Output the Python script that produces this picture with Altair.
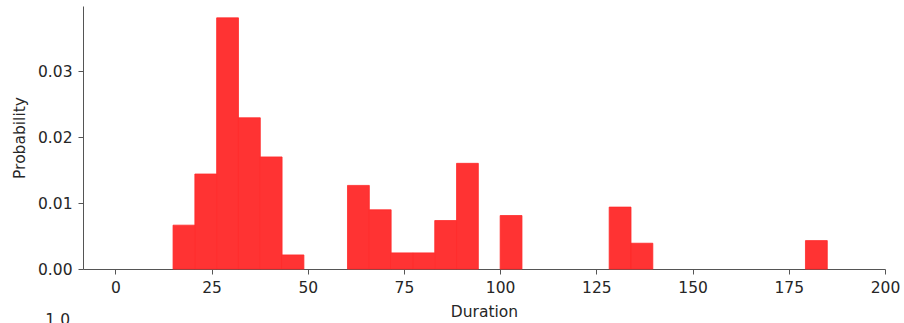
import altair as alt
import pandas as pd

# Histogram of durations: bin edges and probability per bin
bin_edges = [15.0, 20.67, 26.33, 32.0, 37.67, 43.33, 49.0, 54.67, 60.33, 66.0,
             71.67, 77.33, 83.0, 88.67, 94.33, 100.0, 105.67, 111.33, 117.0, 122.67,
             128.33, 134.0, 139.67, 145.33, 151.0, 156.67, 162.33, 168.0, 173.67,
             179.33, 185.0]
probability = [0.00665, 0.01441, 0.0381, 0.02294, 0.0170, 0.00213, 0.0, 0.0,
               0.01268, 0.00898, 0.00244, 0.00244, 0.00735, 0.01603, 0.0,
               0.00811, 0.0, 0.0, 0.0, 0.0, 0.00939, 0.00391, 0.0, 0.0, 0.0,
               0.0, 0.0, 0.0, 0.0, 0.00431]
x_ticks = [0, 25, 50, 75, 100, 125, 150, 175, 200]
y_ticks = [0.0, 0.01, 0.02, 0.03]

df = pd.DataFrame({
    "start": bin_edges[:-1],
    "end": bin_edges[1:],
    "p": probability,
})

FONT = "DejaVu Sans"
TEXT = "#262626"

x_scale = alt.Scale(domain=[-8.4, 200], nice=False, zero=False, padding=0)
y_scale = alt.Scale(domain=[0, 0.0399], nice=False, padding=0)

bars = alt.Chart(df).transform_filter("datum.p > 0").mark_bar(
    color="#ff3333", stroke="#ff2a2a", strokeWidth=0.8, orient="vertical"
).encode(
    x=alt.X("start:Q", scale=x_scale,
            axis=alt.Axis(title="Duration", values=x_ticks, format="d",
                          labelPadding=6, titlePadding=9, labelFlush=False)),
    x2="end:Q",
    y=alt.Y("p:Q", scale=y_scale,
            axis=alt.Axis(title="Probability", values=y_ticks, format=".2f",
                          labelPadding=6, titlePadding=10, labelFlush=False)),
    y2=alt.datum(0),
)

# tick label of the panel that sits below this one
below_label = alt.Chart(pd.DataFrame({"t": ["1.0"]})).mark_text(
    align="right", baseline="middle", font=FONT, fontSize=15.5, color=TEXT
).encode(x=alt.value(-13), y=alt.value(314), text="t:N")

chart = alt.layer(bars, below_label).properties(
    width=802,
    height=263,
    autosize=alt.AutoSizeParams(type="none"),
    padding={"left": 83, "top": 6, "right": 19, "bottom": 54},
    title=alt.TitleParams("Duration", font=FONT, fontSize=15.5, fontWeight="normal",
                          color=TEXT, baseline="alphabetic", offset=2),
).configure_view(stroke=None).configure_axis(
    grid=False,
    domainColor="#555555",
    domainWidth=1,
    tickColor="#555555",
    tickSize=5,
    labelFont=FONT,
    labelFontSize=15.5,
    labelColor=TEXT,
    titleFont=FONT,
    titleFontSize=15.5,
    titleFontWeight="normal",
    titleColor=TEXT,
)

chart.save("out.html", embed_options={"renderer": "svg", "actions": False})
